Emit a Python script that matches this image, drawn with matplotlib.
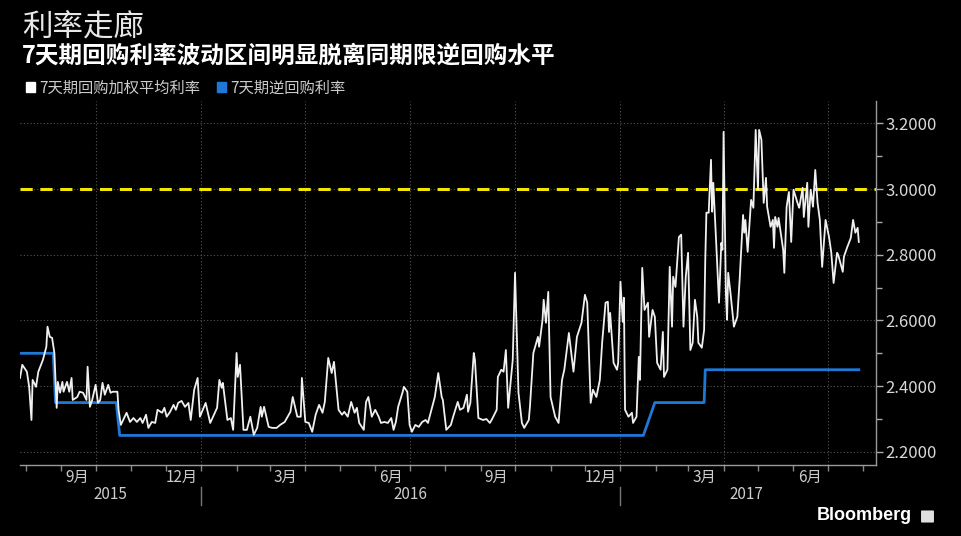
import numpy as np
import pandas as pd
import matplotlib
matplotlib.use('Agg')
from matplotlib import pyplot as plt
import matplotlib.dates as mdates
from matplotlib.patches import Patch, FancyBboxPatch
from matplotlib.lines import Line2D

plt.rcParams['font.family'] = ['Noto Sans CJK SC', 'DejaVu Sans']

# 7天期回购加权平均利率 (days after 2015-07-27)
base_date = pd.Timestamp('2015-07-27')
days_2015a = [0, 2, 6, 8, 10, 11, 14, 16, 20, 23, 24, 26, 28, 30, 32, 33, 35, 37, 38, 41,
              43, 45, 46, 50, 52, 55, 58, 59, 61, 63, 66, 68, 70, 72, 74, 77, 79, 81, 85, 86,
              88, 90, 93, 96, 99, 102, 105, 107, 110, 112, 115, 118, 120, 124, 126, 128, 131,
              134, 136, 138, 141, 144, 147, 149, 152, 155]
rate_2015a = [2.425, 2.465, 2.444, 2.398, 2.297, 2.419, 2.398, 2.444, 2.480, 2.520, 2.581, 2.550,
              2.547, 2.501, 2.334, 2.413, 2.380, 2.413, 2.383, 2.413, 2.383, 2.425, 2.358, 2.367,
              2.383, 2.380, 2.358, 2.459, 2.337, 2.358, 2.404, 2.349, 2.358, 2.410, 2.374, 2.404,
              2.380, 2.383, 2.383, 2.328, 2.282, 2.297, 2.319, 2.291, 2.303, 2.291, 2.303, 2.288,
              2.313, 2.273, 2.291, 2.288, 2.328, 2.319, 2.334, 2.307, 2.322, 2.343, 2.328, 2.349,
              2.355, 2.337, 2.349, 2.297, 2.389, 2.425]
days_2016a = [157, 162, 166, 172, 174, 176, 177, 181, 184, 186, 189, 190, 192, 195, 198, 201, 204,
              207, 210, 211, 213, 217, 220, 224, 227, 231, 236, 238, 242, 245, 246, 249, 252, 255,
              258, 261, 264, 266, 269, 272, 274, 278, 281, 283, 286, 289, 292, 294, 296, 300, 302,
              304, 307, 310]
rate_2016a = [2.307, 2.349, 2.288, 2.334, 2.419, 2.395, 2.410, 2.297, 2.303, 2.267, 2.501, 2.428,
              2.465, 2.267, 2.267, 2.307, 2.252, 2.273, 2.337, 2.307, 2.337, 2.276, 2.273, 2.273,
              2.282, 2.291, 2.322, 2.367, 2.307, 2.307, 2.425, 2.291, 2.288, 2.261, 2.313, 2.343,
              2.319, 2.352, 2.486, 2.440, 2.474, 2.328, 2.313, 2.322, 2.307, 2.352, 2.319, 2.334,
              2.288, 2.267, 2.352, 2.367, 2.307, 2.328]
days_2016b = [313, 315, 318, 321, 324, 326, 328, 330, 334, 335, 338, 340, 342, 345, 348, 351, 354,
              356, 359, 362, 365, 368, 369, 372, 376, 378, 382, 384, 387, 390, 391, 393, 396, 397,
              400, 404, 407, 410, 412, 416, 417, 420, 422, 424, 426, 430, 432, 435, 438, 440, 444,
              445, 448, 452, 453, 456, 457, 459, 461, 463, 467, 470]
rate_2016b = [2.307, 2.288, 2.291, 2.288, 2.303, 2.267, 2.291, 2.337, 2.383, 2.398, 2.383, 2.282,
              2.261, 2.282, 2.276, 2.291, 2.297, 2.288, 2.328, 2.367, 2.440, 2.367, 2.358, 2.267,
              2.282, 2.307, 2.352, 2.328, 2.334, 2.374, 2.322, 2.349, 2.501, 2.480, 2.303, 2.297,
              2.300, 2.288, 2.300, 2.328, 2.428, 2.450, 2.444, 2.510, 2.334, 2.480, 2.745, 2.380,
              2.288, 2.273, 2.297, 2.337, 2.501, 2.550, 2.520, 2.602, 2.663, 2.593, 2.687, 2.367,
              2.307, 2.288]
days_2017a = [473, 475, 479, 480, 483, 486, 490, 493, 495, 498, 500, 503, 506, 508, 511, 513, 514,
              515, 518, 521, 522, 524, 526, 527, 528, 531, 534, 535, 538, 540, 541, 543, 545, 548,
              549, 552, 554, 556, 559, 561, 562, 565, 567, 569, 570, 572, 575, 577, 579, 581, 583,
              585, 587, 589, 591, 592, 595, 597, 598, 599, 601, 603, 604, 605, 607, 610, 612, 613]
rate_2017a = [2.419, 2.450, 2.562, 2.532, 2.444, 2.550, 2.593, 2.678, 2.654, 2.349, 2.389, 2.367,
              2.419, 2.532, 2.654, 2.657, 2.565, 2.623, 2.471, 2.450, 2.471, 2.718, 2.596, 2.669,
              2.328, 2.307, 2.319, 2.288, 2.307, 2.489, 2.419, 2.760, 2.632, 2.654, 2.550, 2.632,
              2.611, 2.471, 2.450, 2.565, 2.428, 2.450, 2.763, 2.581, 2.733, 2.702, 2.854, 2.861,
              2.581, 2.733, 2.806, 2.510, 2.532, 2.663, 2.611, 2.532, 2.517, 2.571, 2.784, 2.928,
              2.928, 3.089, 2.931, 3.019, 2.876, 2.654, 2.836, 2.815]
days_2017b = [614, 616, 617, 618, 620, 623, 626, 628, 631, 632, 633, 635, 638, 640, 642, 644, 645,
              647, 649, 651, 652, 655, 657, 658, 659, 661, 662, 666, 667, 669, 671, 673, 675, 679,
              680, 683, 684, 687, 688, 690, 692, 694, 696, 698, 700, 703, 706, 708, 710, 713, 714,
              718, 719, 722, 725, 727, 729, 731, 732]
rate_2017b = [3.174, 2.684, 2.602, 2.745, 2.684, 2.581, 2.611, 2.724, 2.921, 2.867, 2.906, 2.809,
              2.967, 2.943, 3.180, 2.998, 3.180, 3.150, 2.958, 3.034, 2.946, 2.885, 2.906, 2.821,
              2.915, 2.885, 2.912, 2.815, 2.745, 2.946, 2.991, 2.839, 2.998, 2.952, 2.943, 3.004,
              2.915, 3.019, 2.885, 2.998, 2.946, 3.058, 2.958, 2.906, 2.763, 2.906, 2.854, 2.806,
              2.714, 2.806, 2.800, 2.748, 2.794, 2.824, 2.851, 2.906, 2.867, 2.882, 2.839]

# 7天期逆回购利率
repo_dates = ['2015-07-27', '2015-08-25', '2015-08-27', '2015-10-19', '2015-10-22',
              '2017-01-21', '2017-01-31', '2017-03-15', '2017-03-16', '2017-07-28']
repo_rates = [2.50, 2.50, 2.35, 2.35, 2.25, 2.25, 2.35, 2.35, 2.45, 2.45]

corridor_level = 3.0
y_ticks = [2.2, 2.4, 2.6, 2.8, 3.0, 3.2]
month_label_dates = ['2015-09-15', '2015-12-15', '2016-03-15', '2016-06-15', '2016-09-15',
                     '2016-12-15', '2017-03-15', '2017-06-15']
month_labels = ['9月', '12月', '3月', '6月', '9月', '12月', '3月', '6月']
year_labels = ['2015', '2016', '2017']
year_label_dates = ['2015-10-14', '2016-07-02', '2017-04-21']
year_breaks = ['2016-01-01', '2017-01-01']

all_days = days_2015a + days_2016a + days_2016b + days_2017a + days_2017b
all_rates = rate_2015a + rate_2016a + rate_2016b + rate_2017a + rate_2017b
wa_dates = base_date + pd.to_timedelta(all_days, unit='D')

fig = plt.figure(figsize=(9.61, 5.36), dpi=100, facecolor='black')
ax = fig.add_axes([20 / 961, 1 - 465 / 536, 856 / 961, 364 / 536])
ax.set_facecolor('black')

ax.axhline(corridor_level, color='#f2e600', lw=2.2, ls=(0, (4, 2.5)), zorder=2)
ax.plot(pd.to_datetime(repo_dates), repo_rates, color='#1f78d8', lw=2, zorder=3)
ax.plot(wa_dates, all_rates, color='#f0f0f0', lw=1.3, zorder=4)

ax.set_xlim(pd.Timestamp('2015-07-27'), pd.Timestamp('2017-08-12'))
ax.set_ylim(2.16, 3.268)

# y axis on the right
ax.yaxis.tick_right()
ax.set_yticks(y_ticks)
ax.set_yticks(np.arange(2.3, 3.2, 0.2), minor=True)
ax.yaxis.set_major_formatter(matplotlib.ticker.FormatStrFormatter('%.4f'))
ax.tick_params(axis='y', which='major', length=5, width=1, color='#aaaaaa',
               labelcolor='#d8d8d8', labelsize=12, pad=2)
ax.tick_params(axis='y', which='minor', length=4, width=1, color='#aaaaaa')

# x axis
ax.xaxis.set_major_locator(mdates.MonthLocator(bymonth=[1, 4, 7, 10]))
ax.xaxis.set_minor_locator(mdates.MonthLocator())
ax.tick_params(axis='x', which='both', length=4, width=1, color='#888888', labelbottom=False)

ax.grid(True, which='major', color='#555555', ls=(0, (1, 2)), lw=0.8)

for s in ['left', 'top']:
    ax.spines[s].set_visible(False)
for s in ['right', 'bottom']:
    ax.spines[s].set_color('#9a9a9a')
    ax.spines[s].set_linewidth(1)

sec = ax.secondary_xaxis('bottom')
sec.set_xticks(mdates.date2num(pd.to_datetime(month_label_dates)))
sec.set_xticklabels(month_labels)
sec.tick_params(length=0, labelsize=11, labelcolor='#cccccc', pad=3)
sec.spines['bottom'].set_visible(False)

trans = matplotlib.transforms.blended_transform_factory(ax.transData, ax.transAxes)
for lab, d in zip(year_labels, year_label_dates):
    ax.text(pd.Timestamp(d), -0.082, lab, transform=trans, ha='center', va='center',
            fontsize=11, color='#cccccc')
for d in year_breaks:
    x = mdates.date2num(pd.Timestamp(d))
    ax.add_line(Line2D([x, x], [-0.06, -0.11], transform=trans, color='#777777',
                       lw=1, clip_on=False))

# titles
fig.text(22 / 961, 1 - 28 / 536, '利率走廊', fontsize=22, color='#e8e8e8', va='center')
fig.text(22 / 961, 1 - 56 / 536, '7天期回购利率波动区间明显脱离同期限逆回购水平',
         fontsize=17, fontweight='bold', color='white', va='center')

handles = [Patch(facecolor='white', edgecolor='white'),
           Patch(facecolor='#1f78d8', edgecolor='#1f78d8')]
fig.legend(handles, ['7天期回购加权平均利率', '7天期逆回购利率'], loc='center left',
           bbox_to_anchor=(26 / 961, 1 - 88 / 536), ncol=2, frameon=False,
           handlelength=0.6, handleheight=0.6, handletextpad=0.25, columnspacing=1.1,
           fontsize=11, labelcolor='#cccccc', borderaxespad=0, borderpad=0)

fig.text(912 / 961, 1 - 516 / 536, 'Bloomberg', ha='right', va='center', fontsize=13,
         fontweight='bold', color='white', family='Liberation Sans')
fig.patches.append(FancyBboxPatch((922 / 961, 1 - 522 / 536), 11 / 961, 11 / 536,
                                  boxstyle='round,pad=0.001', transform=fig.transFigure,
                                  facecolor='#e0e0e0', edgecolor='none'))

fig.savefig('out.png', dpi=100, facecolor='black')
